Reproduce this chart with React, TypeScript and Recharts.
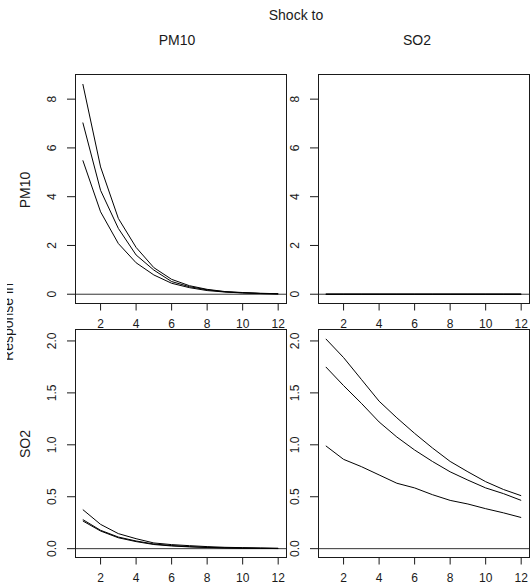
import React from "react";
import { LineChart, Line, XAxis, YAxis, ReferenceLine } from "recharts";

const horizon = [1, 2, 3, 4, 5, 6, 7, 8, 9, 10, 11, 12];
const xTicks = [2, 4, 6, 8, 10, 12];
const pm10Ticks = [0, 2, 4, 6, 8];
const so2Ticks = [0, 0.5, 1, 1.5, 2];

const shockNames = ["PM10", "SO2"];
const responseNames = ["PM10", "SO2"];

// response of PM10 to a PM10 shock
const pmPmUpper = [8.62, 5.22, 3.11, 1.92, 1.09, 0.61, 0.35, 0.2, 0.11, 0.07, 0.04, 0.02];
const pmPmIrf = [7.04, 4.26, 2.7, 1.61, 0.99, 0.52, 0.31, 0.18, 0.1, 0.06, 0.03, 0.02];
const pmPmLower = [5.49, 3.38, 2.08, 1.29, 0.79, 0.45, 0.27, 0.15, 0.09, 0.05, 0.03, 0.01];

// response of PM10 to a SO2 shock
const pmSoUpper = [0, 0, 0, 0, 0, 0, 0, 0, 0, 0, 0, 0];
const pmSoIrf = [0, 0, 0, 0, 0, 0, 0, 0, 0, 0, 0, 0];
const pmSoLower = [0, 0, 0, 0, 0, 0, 0, 0, 0, 0, 0, 0];

// response of SO2 to a PM10 shock
const soPmUpper = [0.376, 0.234, 0.145, 0.096, 0.055, 0.039, 0.029, 0.02, 0.013, 0.01, 0.007, 0.004];
const soPmIrf = [0.28, 0.177, 0.112, 0.074, 0.045, 0.03, 0.02, 0.013, 0.008, 0.005, 0.003, 0.002];
const soPmLower = [0.267, 0.17, 0.105, 0.068, 0.04, 0.026, 0.017, 0.011, 0.007, 0.004, 0.003, 0.001];

// response of SO2 to a SO2 shock
const soSoUpper = [2.02, 1.84, 1.63, 1.42, 1.26, 1.11, 0.97, 0.84, 0.74, 0.645, 0.57, 0.51];
const soSoIrf = [1.75, 1.57, 1.4, 1.22, 1.075, 0.95, 0.84, 0.74, 0.66, 0.585, 0.53, 0.465];
const soSoLower = [0.99, 0.86, 0.79, 0.71, 0.63, 0.585, 0.52, 0.465, 0.43, 0.385, 0.345, 0.3];

const FONT = "'Liberation Sans', Arial, sans-serif";
const INK = "#1a1a1a";

const PLOT_W = 211;
const PLOT_H = 228.5;
const PAD_L = 70;
const PAD_T = 20;
const PAD_R = 12;
const PAD_B = 40;
const X_DOMAIN: [number, number] = [0.56, 12.44];

const XTick = (p: any) => (
  <text x={p.x} y={p.y + 17} textAnchor="middle" fontSize={12} fontFamily={FONT} fill={INK}>
    {p.payload.value}
  </text>
);

const makeYTick = (fmt: (v: number) => string) => (p: any) => {
  const bx = p.x - 11;
  return (
    <text
      x={bx}
      y={p.y}
      transform={`rotate(-90, ${bx}, ${p.y})`}
      textAnchor="middle"
      fontSize={12}
      fontFamily={FONT}
      fill={INK}
    >
      {fmt(p.payload.value)}
    </text>
  );
};

interface PanelProps {
  left: number;
  top: number;
  upper: number[];
  irf: number[];
  lower: number[];
  yDomain: [number, number];
  yTicks: number[];
  fmt: (v: number) => string;
}

const Panel = ({ left, top, upper, irf, lower, yDomain, yTicks, fmt }: PanelProps) => {
  const data = horizon.map((h, i) => ({ h, upper: upper[i], irf: irf[i], lower: lower[i] }));
  return (
    <div style={{ position: "absolute", left: left - PAD_L, top: top - PAD_T }}>
      <LineChart
        width={PLOT_W + PAD_L + PAD_R}
        height={PLOT_H + PAD_T + PAD_B}
        data={data}
        margin={{ top: PAD_T, right: PAD_R, bottom: 0, left: 0 }}
      >
        <XAxis
          dataKey="h"
          type="number"
          domain={X_DOMAIN}
          ticks={xTicks}
          interval={0}
          height={PAD_B}
          tickSize={7}
          tickMargin={0}
          axisLine={false}
          tickLine={{ stroke: INK }}
          tick={XTick}
        />
        <YAxis
          type="number"
          domain={yDomain}
          ticks={yTicks}
          interval={0}
          width={PAD_L}
          tickSize={8}
          tickMargin={0}
          axisLine={false}
          tickLine={{ stroke: INK }}
          tick={makeYTick(fmt)}
        />
        <ReferenceLine y={0} stroke="#333" strokeWidth={1} />
        <Line dataKey="upper" type="linear" stroke="#000" strokeWidth={1} dot={false} isAnimationActive={false} />
        <Line dataKey="irf" type="linear" stroke="#000" strokeWidth={1} dot={false} isAnimationActive={false} />
        <Line dataKey="lower" type="linear" stroke="#000" strokeWidth={1} dot={false} isAnimationActive={false} />
      </LineChart>
      {/* plot frame, like R's box() */}
      <div
        style={{
          position: "absolute",
          left: PAD_L - 0.5,
          top: PAD_T - 0.5,
          width: PLOT_W + 1,
          height: PLOT_H + 1,
          border: `1px solid ${INK}`,
          boxSizing: "border-box",
          pointerEvents: "none",
        }}
      />
    </div>
  );
};

const intFmt = (v: number) => String(v);
const decFmt = (v: number) => v.toFixed(1);

const PM_DOMAIN: [number, number] = [-0.38, 8.99];
const SO_DOMAIN: [number, number] = [-0.085, 2.115];

const colLeft = [75, 318];
const rowTop = [74.8, 329];

export default function App() {
  return (
    <div
      style={{
        position: "absolute",
        left: 0,
        top: 0,
        width: 531,
        height: 584,
        overflow: "hidden",
        background: "#fff",
      }}
    >
      <Panel left={colLeft[0]} top={rowTop[0]} upper={pmPmUpper} irf={pmPmIrf} lower={pmPmLower} yDomain={PM_DOMAIN} yTicks={pm10Ticks} fmt={intFmt} />
      <Panel left={colLeft[1]} top={rowTop[0]} upper={pmSoUpper} irf={pmSoIrf} lower={pmSoLower} yDomain={PM_DOMAIN} yTicks={pm10Ticks} fmt={intFmt} />
      <Panel left={colLeft[0]} top={rowTop[1]} upper={soPmUpper} irf={soPmIrf} lower={soPmLower} yDomain={SO_DOMAIN} yTicks={so2Ticks} fmt={decFmt} />
      <Panel left={colLeft[1]} top={rowTop[1]} upper={soSoUpper} irf={soSoIrf} lower={soSoLower} yDomain={SO_DOMAIN} yTicks={so2Ticks} fmt={decFmt} />
      <svg
        width={531}
        height={584}
        style={{ position: "absolute", left: 0, top: 0, pointerEvents: "none" }}
        fontFamily={FONT}
        fill={INK}
      >
        <defs>
          <clipPath id="edge">
            <rect x={7} y={0} width={30} height={584} />
          </clipPath>
        </defs>
        <text x={296} y={20} textAnchor="middle" fontSize={14}>Shock to</text>
        <text x={177} y={45} textAnchor="middle" fontSize={14}>{shockNames[0]}</text>
        <text x={417} y={45} textAnchor="middle" fontSize={14}>{shockNames[1]}</text>
        <text x={30} y={190} transform="rotate(-90, 30, 190)" textAnchor="middle" fontSize={14}>{responseNames[0]}</text>
        <text x={30} y={444} transform="rotate(-90, 30, 444)" textAnchor="middle" fontSize={14}>{responseNames[1]}</text>
        <g clipPath="url(#edge)">
          <text x={13} y={322} transform="rotate(-90, 13, 322)" textAnchor="middle" fontSize={14}>Response in</text>
        </g>
      </svg>
    </div>
  );
}
